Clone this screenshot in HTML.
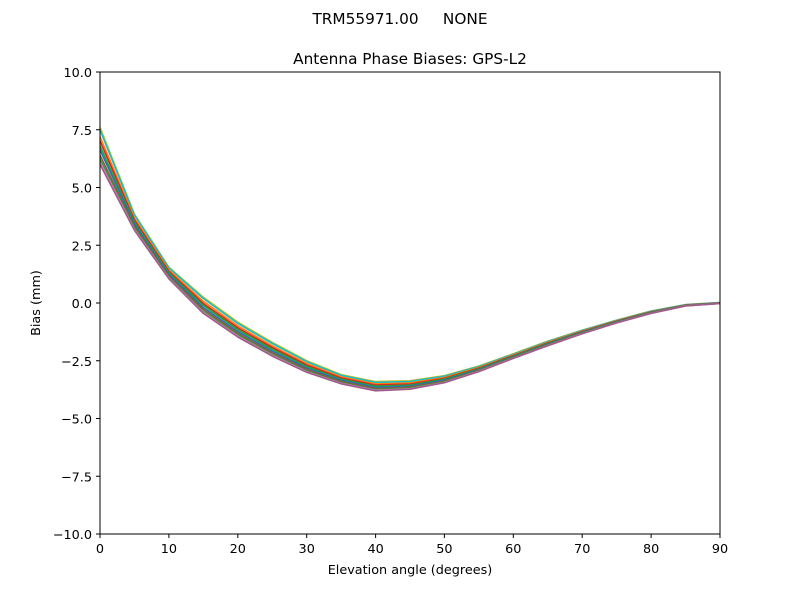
<!DOCTYPE html>
<html><head><meta charset="utf-8"><style>
body{margin:0;background:#fff}
svg text{font-family:"DejaVu Sans","Liberation Sans",sans-serif;fill:#000}
</style></head><body>
<svg width="800" height="600" viewBox="0 0 800 600" xmlns="http://www.w3.org/2000/svg">
<rect width="800" height="600" fill="#fff"/>
<text x="400" y="24" font-size="15.3" text-anchor="middle" xml:space="preserve">TRM55971.00     NONE</text>
<text x="410" y="64" font-size="15.3" text-anchor="middle">Antenna Phase Biases: GPS-L2</text>
<g fill="none" stroke-width="1.6" stroke-linejoin="round">
<polyline stroke="#bcbd22" points="100,127.4 134.4,214.1 168.9,267.2 203.3,297.2 237.8,322.2 272.2,342.3 306.7,360.7 341.1,374.6 375.6,381.6 410,380.8 444.4,375.7 478.9,366 513.3,353.8 547.8,341.1 582.2,330.1 616.7,320.1 651.1,311 685.6,304.6 720,302.5"/>
<polyline stroke="#17becf" points="100,130 134.4,215 168.9,268 203.3,298.5 237.8,323.5 272.2,343.5 306.7,361.7 341.1,375.4 375.6,382.4 410,381.6 444.4,376.3 478.9,366.5 513.3,354.2 547.8,341.5 582.2,330.4 616.7,320.3 651.1,311.2 685.6,304.7 720,302.6"/>
<polyline stroke="#ff7f0e" points="100,136.7 134.4,218.2 168.9,270.1 203.3,301.3 237.8,325.9 272.2,345.8 306.7,363.6 341.1,376.9 375.6,383.9 410,382.9 444.4,377.5 478.9,367.4 513.3,355 547.8,342.3 582.2,331 616.7,320.8 651.1,311.6 685.6,305 720,302.8"/>
<polyline stroke="#d62728" points="100,141 134.4,220 168.9,271.5 203.3,303.5 237.8,327.8 272.2,347.5 306.7,365 341.1,378 375.6,385 410,384 444.4,378.4 478.9,368.1 513.3,355.6 547.8,342.9 582.2,331.5 616.7,321.2 651.1,311.9 685.6,305.1 720,302.9"/>
<polyline stroke="#2ca02c" points="100,145.9 134.4,222.2 168.9,273 203.3,305.3 237.8,329.6 272.2,349.2 306.7,366.5 341.1,379.2 375.6,386.2 410,385 444.4,379.2 478.9,368.8 513.3,356.1 547.8,343.4 582.2,331.9 616.7,321.5 651.1,312.2 685.6,305.3 720,303"/>
<polyline stroke="#1f77b4" points="100,150 134.4,224 168.9,274.5 203.3,307.5 237.8,331.5 272.2,351 306.7,368 341.1,380.3 375.6,387.3 410,386 444.4,380.1 478.9,369.5 513.3,356.7 547.8,344 582.2,332.3 616.7,321.8 651.1,312.5 685.6,305.5 720,303.1"/>
<polyline stroke="#8c564b" points="100,155.2 134.4,226.3 168.9,275.9 203.3,309.4 237.8,333.3 272.2,352.7 306.7,369.4 341.1,381.5 375.6,388.5 410,387.1 444.4,381 478.9,370.2 513.3,357.3 547.8,344.6 582.2,332.8 616.7,322.2 651.1,312.8 685.6,305.7 720,303.3"/>
<polyline stroke="#2ca02c" points="100,159 134.4,228 168.9,277.3 203.3,311.4 237.8,335 272.2,354.4 306.7,370.9 341.1,382.6 375.6,389.6 410,388.1 444.4,381.8 478.9,370.9 513.3,357.8 547.8,345.1 582.2,333.2 616.7,322.5 651.1,313.1 685.6,305.8 720,303.4"/>
<polyline stroke="#e377c2" points="100,162 134.4,229.5 168.9,278.2 203.3,312.6 237.8,336.2 272.2,355.4 306.7,371.7 341.1,383.3 375.6,390.3 410,388.8 444.4,382.4 478.9,371.3 513.3,358.2 547.8,345.5 582.2,333.5 616.7,322.8 651.1,313.3 685.6,305.9 720,303.5"/>
<polyline stroke="#a05a8c" points="100,164.4 134.4,230.3 168.9,278.8 203.3,313.4 237.8,337 272.2,356.1 306.7,372.3 341.1,383.8 375.6,390.8 410,389.2 444.4,382.7 478.9,371.6 513.3,358.4 547.8,345.7 582.2,333.7 616.7,322.9 651.1,313.4 685.6,306 720,303.5"/>
</g>
<rect x="100" y="72" width="620" height="462" fill="none" stroke="#000" stroke-width="1"/>
<g stroke="#000" stroke-width="1">
<line x1="100" y1="534" x2="100" y2="538"/><line x1="168.9" y1="534" x2="168.9" y2="538"/><line x1="237.8" y1="534" x2="237.8" y2="538"/><line x1="306.7" y1="534" x2="306.7" y2="538"/><line x1="375.6" y1="534" x2="375.6" y2="538"/><line x1="444.4" y1="534" x2="444.4" y2="538"/><line x1="513.3" y1="534" x2="513.3" y2="538"/><line x1="582.2" y1="534" x2="582.2" y2="538"/><line x1="651.1" y1="534" x2="651.1" y2="538"/><line x1="720" y1="534" x2="720" y2="538"/>
<line x1="96" y1="72" x2="100" y2="72"/><line x1="96" y1="129.75" x2="100" y2="129.75"/><line x1="96" y1="187.5" x2="100" y2="187.5"/><line x1="96" y1="245.25" x2="100" y2="245.25"/><line x1="96" y1="303" x2="100" y2="303"/><line x1="96" y1="360.75" x2="100" y2="360.75"/><line x1="96" y1="418.5" x2="100" y2="418.5"/><line x1="96" y1="476.25" x2="100" y2="476.25"/><line x1="96" y1="534" x2="100" y2="534"/>
</g>
<g font-size="12.8" text-anchor="middle">
<text x="100" y="553">0</text><text x="168.9" y="553">10</text><text x="237.8" y="553">20</text><text x="306.7" y="553">30</text><text x="375.6" y="553">40</text><text x="444.4" y="553">50</text><text x="513.3" y="553">60</text><text x="582.2" y="553">70</text><text x="651.1" y="553">80</text><text x="720" y="553">90</text>
</g>
<g font-size="12.8" text-anchor="end">
<text x="92" y="77">10.0</text><text x="92" y="134.75">7.5</text><text x="92" y="192.5">5.0</text><text x="92" y="250.25">2.5</text><text x="92" y="308">0.0</text><text x="92" y="365.75">−2.5</text><text x="92" y="423.5">−5.0</text><text x="92" y="481.25">−7.5</text><text x="92" y="539">−10.0</text>
</g>
<text x="410" y="574" font-size="12.8" text-anchor="middle">Elevation angle (degrees)</text>
<text x="0" y="0" font-size="12.8" text-anchor="middle" transform="translate(40,303) rotate(-90)">Bias (mm)</text>
</svg>
</body></html>
